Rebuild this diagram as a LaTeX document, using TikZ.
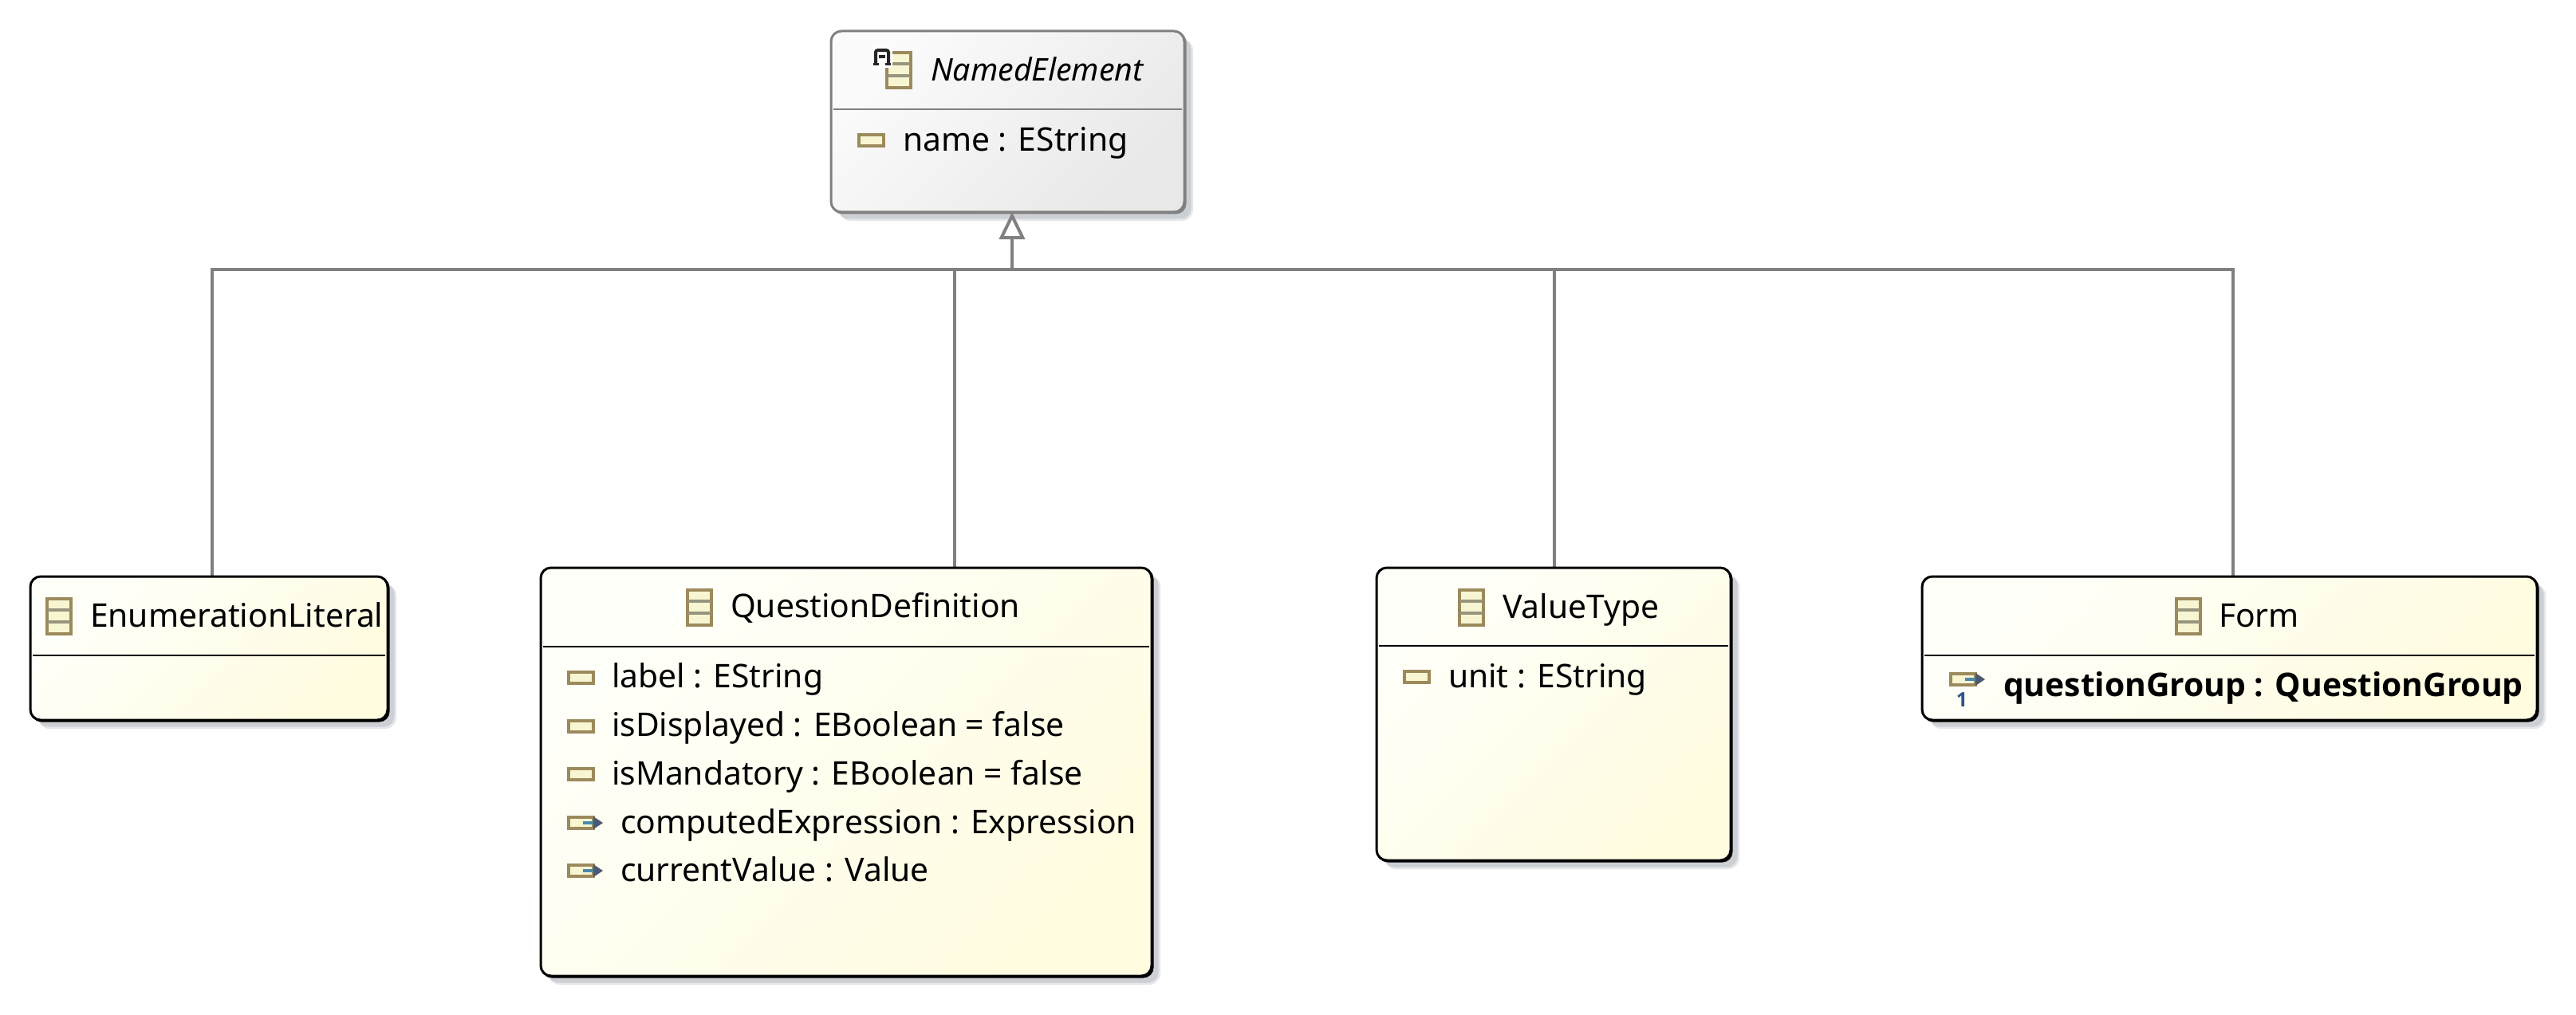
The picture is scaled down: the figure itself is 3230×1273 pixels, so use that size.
\documentclass[tikz,border=0pt]{standalone}
\usepackage{fontspec}
\setmainfont{Noto Sans}
\newfontfamily\boldsans{Open Sans}
\usetikzlibrary{arrows.meta}
\definecolor{edgegray}{HTML}{808080}
\definecolor{shadowgray}{HTML}{CCCFD3}
\definecolor{shadowpale}{HTML}{E6E7EA}
\definecolor{creamA}{HTML}{FFFFFA}
\definecolor{creamB}{HTML}{FFFCE0}
\definecolor{greyA}{HTML}{FBFBFB}
\definecolor{greyB}{HTML}{E8E8E8}
\definecolor{iconedge}{HTML}{9C8A5C}
\definecolor{iconfill}{HTML}{F8F6D2}
\definecolor{iconmid}{HTML}{98957E}
\definecolor{arrowslate}{HTML}{4B5A70}
\definecolor{arrowteal}{HTML}{4A8AA8}
\definecolor{onecolor}{HTML}{2F5585}
\tikzset{
  x=1pt,y=-1pt,
  concrete/.style={draw=black,line width=3pt,rounded corners=13pt,top color=creamA,bottom color=creamB,shading angle=45},
  abstractbox/.style={draw=edgegray,line width=3pt,rounded corners=13pt,top color=greyA,bottom color=greyB,shading angle=45},
  umltext/.style={anchor=base west,inner sep=0pt,outer sep=0pt,text=black,font=\fontsize{40.8}{44}\selectfont},
  umlbold/.style={umltext,font=\boldsans\fontsize{40.8}{44}\selectfont\bfseries},
  umlital/.style={umltext,font=\fontsize{39.3}{44}\selectfont\itshape},
  conn/.style={draw=edgegray,line width=4pt},
  iconbox/.style={draw=iconedge,line width=4.5pt,fill=iconfill},
}
% name, x0, y0, x1, y1, divider y, style, edge colour
\newcommand\umlbox[8]{%
  \fill[shadowpale,rounded corners=14pt] (#2+10,#3+10) rectangle (#4+11,#5+11);
  \fill[shadowgray,rounded corners=13pt] (#2+9,#3+9) rectangle (#4+8.5,#5+8.5);
  \fill[#8,rounded corners=13pt] (#2+1,#3+1) rectangle (#4+2.5,#5+2.5);
  \node[#7,inner sep=0pt,outer sep=0pt,minimum width=#4pt-#2pt,minimum height=#5pt-#3pt,anchor=north west] (#1) at (#2,#3) {};
  \draw[#8,line width=2.5pt] (#2+3,#6) -- (#4-3,#6);
}
\newcommand\classicon[2]{%
  \filldraw[iconbox] (#1+2,#2+2) rectangle (#1+32,#2+46);
  \draw[iconmid,line width=3.5pt] (#1+3,#2+16) -- (#1+31,#2+16);
  \draw[iconmid,line width=3.5pt] (#1+3,#2+31) -- (#1+31,#2+31);
}
\newcommand\attricon[2]{%
  \filldraw[iconbox] (#1+2,#2+2) rectangle (#1+33,#2+16);
}
\newcommand\reficon[2]{%
  \attricon{#1}{#2}
  \draw[arrowteal,line width=3.5pt] (#1+20,#2+9) -- (#1+36,#2+9);
  \fill[arrowslate] (#1+33,#2+1) -- (#1+45,#2+9) -- (#1+33,#2+17) -- cycle;
}
\begin{document}
\begin{tikzpicture}
\useasboundingbox (0,0) rectangle (3230,1273);
\fill[white] (0,0) rectangle (3230,1273);

% connectors
\umlbox{named}{1042}{39}{1485}{266}{137}{abstractbox}{edgegray}
\coordinate (hub) at (1269,338);
\coordinate (enumtop) at (266,723);
\coordinate (qdtop) at (1197,712);
\coordinate (vttop) at (1949,712);
\coordinate (formtop) at (2800,723);
\draw[conn] (enumtop) |- (hub);
\draw[conn] (qdtop) |- (hub);
\draw[conn] (vttop) |- (hub);
\draw[conn] (formtop) |- (hub);
\draw[conn,-{Triangle[open,length=34pt,width=32pt,line width=4pt,fill=white]}] (hub) -- (named.south -| hub);

% NamedElement
\classicon{1110}{64}
\fill[white,rounded corners=3pt] (1093,59) rectangle (1119,85);
\draw[black!85,line width=4pt,rounded corners=2.5pt] (1098,80) -- (1098,63) -- (1114,63) -- (1114,80);
\draw[black!85,line width=3.5pt] (1102,71) -- (1110,71);
\draw[black!85,line width=3.5pt] (1095,80.5) -- (1102,80.5) (1110,80.5) -- (1117,80.5);
\node[umlital] (namedT) at (1167,102) {NamedElement};
\attricon{1075}{167}
\node[umltext] (namedA) at (1132,190) {name : EString};

% EnumerationLiteral
\umlbox{enum}{38}{723}{486}{903}{822}{concrete}{black}
\classicon{57}{749}
\node[umltext] (enumT) at (113,786) {EnumerationLiteral};

% QuestionDefinition
\umlbox{qd}{678}{712}{1444}{1224}{811}{concrete}{black}
\classicon{860}{738}
\node[umltext] (qdT) at (916,774) {QuestionDefinition};
\attricon{711}{841}
\node[umltext] (qdA) at (767,862) {label : EString};
\attricon{711}{902}
\node[umltext] (qdB) at (767,923) {isDisplayed : EBoolean = false};
\attricon{711}{962}
\node[umltext] (qdC) at (767,984) {isMandatory : EBoolean = false};
\reficon{711}{1023}
\node[umltext] (qdD) at (778,1045) {computedExpression : Expression};
\reficon{711}{1083}
\node[umltext] (qdE) at (778,1105) {currentValue : Value};

% ValueType
\umlbox{vt}{1726}{712}{2170}{1079}{810}{concrete}{black}
\classicon{1828}{738}
\node[umltext] (vtT) at (1884,775) {ValueType};
\attricon{1759}{840}
\node[umltext] (vtA) at (1816,862) {unit : EString};

% Form
\umlbox{form}{2410}{723}{3181}{903}{822}{concrete}{black}
\classicon{2727}{749}
\node[umltext] (formT) at (2782,786) {Form};
\reficon{2444}{843}
\node[text=onecolor,inner sep=0pt,anchor=base,font=\boldsans\fontsize{25}{26}\selectfont\bfseries] (formOne) at (2460,886) {1};
\node[umlbold] (formA) at (2512,873) {questionGroup : QuestionGroup};
\end{tikzpicture}
\end{document}
